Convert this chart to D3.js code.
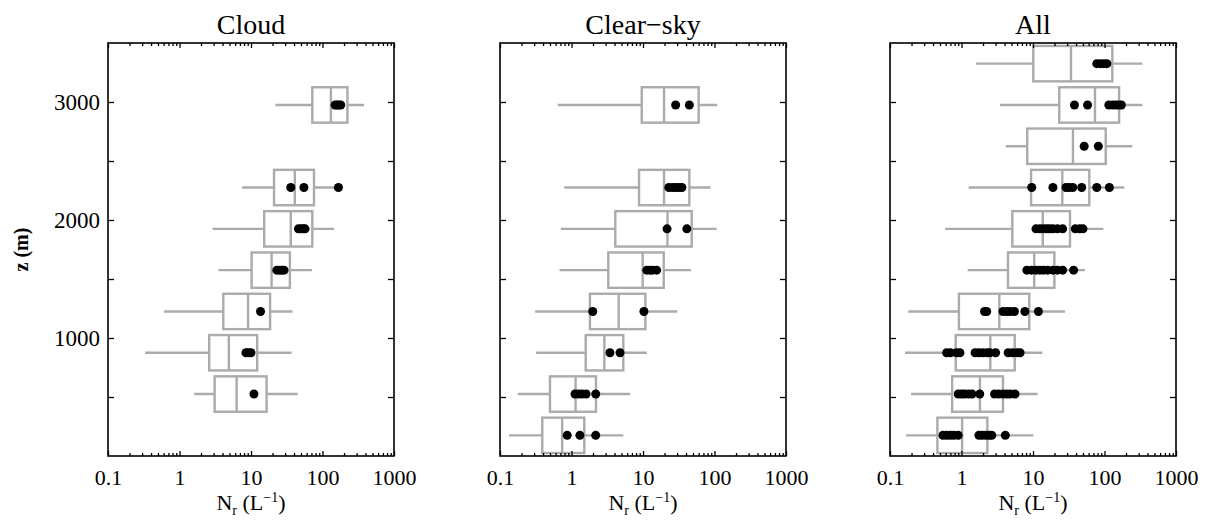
<!DOCTYPE html>
<html>
<head>
<meta charset="utf-8">
<script src="https://cdn.jsdelivr.net/npm/d3@7"></script>
<style>
  body { margin: 0; background: #fff; }
  svg { display: block; }
</style>
</head>
<body>
<script>
// -------------------- DATA --------------------
var panelTitles = ["Cloud", "Clear\u2212sky", "All"];
var xTickValues = [0.1, 1, 10, 100, 1000];
var xTickLabels = ["0.1", "1", "10", "100", "1000"];
var yTickValues = [1000, 2000, 3000];
var yMinorValues = [500, 1500, 2500];

// Cloud
var cloudZ   = [525, 875, 1225, 1575, 1925, 2275, 2975];
var cloudLo  = [1.6, 0.33, 0.61, 3.5, 2.9, 7.5, 22];
var cloudQ1  = [3.1, 2.6, 4.1, 10.2, 15.3, 21, 72];
var cloudMed = [6.3, 4.9, 9.1, 19.4, 36, 41, 131];
var cloudQ3  = [16.5, 12.2, 18.5, 35, 72, 76, 223];
var cloudHi  = [45, 37, 38, 71, 145, 165, 381];
var cloudPts = [[11], [8.5, 9.2, 10], [13.6], [23, 25, 27, 29],
                [46, 50, 54, 57], [36, 55, 167], [150, 160, 170, 180]];

// Clear-sky
var clearZ   = [175, 525, 875, 1225, 1575, 1925, 2275, 2975];
var clearLo  = [0.134, 0.177, 0.32, 0.31, 0.68, 0.71, 0.79, 0.64];
var clearQ1  = [0.39, 0.5, 1.58, 1.81, 3.27, 4.1, 8.8, 9.6];
var clearMed = [0.74, 1.14, 2.88, 4.57, 9.9, 22, 19.7, 19.7];
var clearQ3  = [1.51, 2.2, 5.3, 10.8, 19.5, 48, 44.5, 60];
var clearHi  = [5.3, 6.6, 11.3, 30, 47, 107, 88, 109];
var clearPts = [[0.87, 1.31, 2.18], [1.12, 1.25, 1.4, 1.6, 2.18], [3.45, 4.77],
                [1.98, 10.3], [11.3, 12.5, 13.5, 15.5], [21.7, 41],
                [23, 26, 29, 32, 35], [28.6, 44.5]];

// All
var allZ   = [175, 525, 875, 1225, 1575, 1925, 2275, 2625, 2975, 3325];
var allLo  = [0.168, 0.197, 0.162, 0.18, 1.22, 0.59, 1.26, 4.15, 3.45, 1.6];
var allQ1  = [0.46, 0.74, 0.83, 0.92, 4.47, 5.14, 9.4, 8.3, 23.3, 10.1];
var allMed = [1.02, 1.81, 2.53, 3.38, 10.4, 13.7, 25.7, 36.2, 73.6, 34];
var allQ3  = [2.3, 3.8, 5.55, 8.87, 19.9, 32.9, 61.3, 104, 160, 128.6];
var allHi  = [10.1, 11.6, 13.5, 28, 53.4, 96.2, 189, 245, 338, 338];
var allPts = [
  [0.55, 0.62, 0.7, 0.78, 0.9, 1.75, 1.95, 2.2, 2.45, 2.65, 4.1],
  [0.9, 1.0, 1.1, 1.25, 1.4, 1.8, 2.9, 3.3, 3.8, 4.3, 4.8, 5.6],
  [0.62, 0.7, 0.85, 0.95, 1.55, 1.75, 2.0, 2.3, 2.5, 3.0, 4.5, 5.2, 6.0, 6.6],
  [2.1, 2.25, 3.8, 4.3, 4.8, 5.5, 7.7, 11.9],
  [8.2, 9.5, 11, 12.5, 14, 16, 19, 22, 26, 37],
  [11, 12.5, 14, 15.5, 17, 19, 22, 26, 39, 45, 50],
  [9.6, 19, 29, 32, 36, 48, 78, 117],
  [52, 82],
  [38, 58, 115, 130, 145, 160, 172],
  [78, 88, 98, 108]
];

// -------------------- DIMENSIONS --------------------
var w = 1213, h = 523;
var panelLeft = [108, 500, 890];
var panelW = 286;
var plotTop = 43, plotBottom = 456;
var boxH = 300;          // box thickness in metres
var grey = "#ababab";
var serif = "'Liberation Serif', 'Times New Roman', serif";

var svg = d3.select("body").append("svg")
  .attr("width", w)
  .attr("height", h);

var y = d3.scaleLinear().domain([0, 3500]).range([plotBottom, plotTop]);

// minor log ticks 2..9 per decade
var xMinor = [];
for (var e = -1; e < 3; e++) {
  for (var m = 2; m <= 9; m++) xMinor.push(m * Math.pow(10, e));
}

function rows(z, lo, q1, med, q3, hi, pts) {
  return z.map(function(d, i) {
    return { z: d, lo: lo[i], q1: q1[i], med: med[i], q3: q3[i], hi: hi[i], pts: pts[i] };
  });
}

var panels = [
  rows(cloudZ, cloudLo, cloudQ1, cloudMed, cloudQ3, cloudHi, cloudPts),
  rows(clearZ, clearLo, clearQ1, clearMed, clearQ3, clearHi, clearPts),
  rows(allZ, allLo, allQ1, allMed, allQ3, allHi, allPts)
];

function styleAxis(g, fs) {
  g.select(".domain").remove();
  g.selectAll("line").attr("stroke", "#000").attr("stroke-width", 1.3);
  g.selectAll("text").attr("font-family", serif).attr("font-size", fs).attr("fill", "#000");
}

// -------------------- DRAW PANELS --------------------
panels.forEach(function(data, p) {
  var x0 = panelLeft[p];
  var x = d3.scaleLog().domain([0.1, 1000]).range([x0, x0 + panelW]);
  var g = svg.append("g");
  var bh = y(0) - y(boxH);

  // whiskers
  g.selectAll(".whisker").data(data).enter().append("line")
    .attr("x1", function(d) { return x(d.lo); })
    .attr("x2", function(d) { return x(d.hi); })
    .attr("y1", function(d) { return y(d.z); })
    .attr("y2", function(d) { return y(d.z); })
    .attr("stroke", grey).attr("stroke-width", 2.4);

  // boxes
  g.selectAll(".box").data(data).enter().append("rect")
    .attr("x", function(d) { return x(d.q1); })
    .attr("width", function(d) { return x(d.q3) - x(d.q1); })
    .attr("y", function(d) { return y(d.z) - bh / 2; })
    .attr("height", bh)
    .attr("fill", "#fff")
    .attr("stroke", grey).attr("stroke-width", 2.4);

  // medians
  g.selectAll(".median").data(data).enter().append("line")
    .attr("x1", function(d) { return x(d.med); })
    .attr("x2", function(d) { return x(d.med); })
    .attr("y1", function(d) { return y(d.z) - bh / 2; })
    .attr("y2", function(d) { return y(d.z) + bh / 2; })
    .attr("stroke", grey).attr("stroke-width", 2.4);

  // individual points
  var flat = [];
  data.forEach(function(d) { d.pts.forEach(function(v) { flat.push({ z: d.z, v: v }); }); });
  g.selectAll(".pt").data(flat).enter().append("circle")
    .attr("cx", function(d) { return x(d.v); })
    .attr("cy", function(d) { return y(d.z); })
    .attr("r", 4.5)
    .attr("fill", "#000");

  // axes (ticks point inward)
  var bot = svg.append("g").attr("transform", "translate(0," + plotBottom + ")")
    .call(d3.axisBottom(x).tickValues(xTickValues).tickSizeInner(-5).tickSizeOuter(0).tickPadding(13)
      .tickFormat(function(d, i) { return xTickLabels[i]; }));
  styleAxis(bot, "22px");
  var botMinor = svg.append("g").attr("transform", "translate(0," + plotBottom + ")")
    .call(d3.axisBottom(x).tickValues(xMinor).tickSizeInner(-3).tickSizeOuter(0).tickFormat(""));
  styleAxis(botMinor, "1px");

  var topA = svg.append("g").attr("transform", "translate(0," + plotTop + ")")
    .call(d3.axisTop(x).tickValues(xTickValues).tickSizeInner(-5).tickSizeOuter(0).tickFormat(""));
  styleAxis(topA, "1px");
  var topMinor = svg.append("g").attr("transform", "translate(0," + plotTop + ")")
    .call(d3.axisTop(x).tickValues(xMinor).tickSizeInner(-3).tickSizeOuter(0).tickFormat(""));
  styleAxis(topMinor, "1px");

  var left = svg.append("g").attr("transform", "translate(" + x0 + ",0)")
    .call(d3.axisLeft(y).tickValues(yTickValues).tickSizeInner(-6).tickSizeOuter(0).tickPadding(8)
      .tickFormat(p === 0 ? d3.format("d") : ""));
  styleAxis(left, "23px");
  var leftMinor = svg.append("g").attr("transform", "translate(" + x0 + ",0)")
    .call(d3.axisLeft(y).tickValues(yMinorValues).tickSizeInner(-6).tickSizeOuter(0).tickFormat(""));
  styleAxis(leftMinor, "1px");

  var right = svg.append("g").attr("transform", "translate(" + (x0 + panelW) + ",0)")
    .call(d3.axisRight(y).tickValues(yTickValues.concat(yMinorValues)).tickSizeInner(-6).tickSizeOuter(0).tickFormat(""));
  styleAxis(right, "1px");

  // frame
  svg.append("rect")
    .attr("x", x0).attr("y", plotTop)
    .attr("width", panelW).attr("height", plotBottom - plotTop)
    .attr("fill", "none").attr("stroke", "#000").attr("stroke-width", 1.6);

  // title
  svg.append("text")
    .attr("x", x0 + panelW / 2).attr("y", 34)
    .attr("text-anchor", "middle")
    .attr("font-family", serif).attr("font-size", "28px")
    .text(panelTitles[p]);

  // x axis title: N_r (L^-1)
  var xt = svg.append("text")
    .attr("x", x0 + panelW / 2).attr("y", 510)
    .attr("text-anchor", "middle")
    .attr("font-family", serif).attr("font-size", "22px");
  xt.append("tspan").text("N");
  xt.append("tspan").attr("font-size", "14px").attr("dy", 5).text("r");
  xt.append("tspan").attr("dy", -5).text(" (L");
  xt.append("tspan").attr("font-size", "14px").attr("dy", -8).text("\u22121");
  xt.append("tspan").attr("dy", 8).text(")");
});

// y axis title
svg.append("text")
  .attr("transform", "translate(28," + ((plotTop + plotBottom) / 2) + ") rotate(-90)")
  .attr("text-anchor", "middle")
  .attr("font-family", serif).attr("font-size", "20px").attr("font-weight", "bold")
  .text("z (m)");
</script>
</body>
</html>
